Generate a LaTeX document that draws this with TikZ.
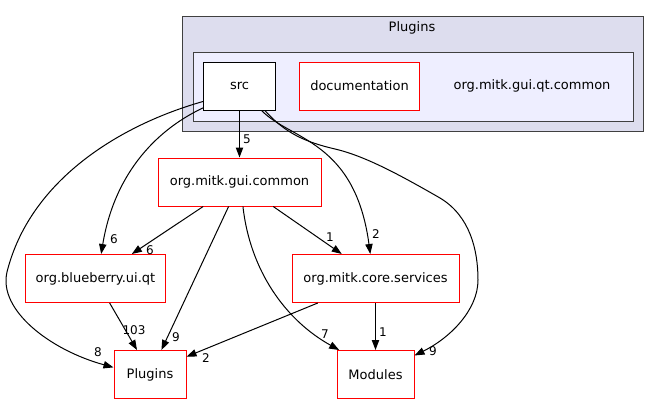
\documentclass[tikz,border=0pt]{standalone}
\usepackage{fontspec}
\setmainfont{DejaVu Sans}
\usetikzlibrary{arrows.meta}
\definecolor{clusterouter}{HTML}{DDDDEE}
\definecolor{clusterinner}{HTML}{EEEEFF}
\definecolor{clusterline}{HTML}{404040}
\begin{document}
\begin{tikzpicture}[x=0.75pt,y=0.75pt,yscale=-1,xscale=1,
  dirbox/.style={draw=red,fill=white,line width=0.75pt,inner sep=0pt,minimum height=36pt,font=\fontsize{9.75}{11}\selectfont},
  srcbox/.style={dirbox,draw=black},
  dep/.style={line width=0.75pt,-{Triangle[length=7.5pt,width=5.5pt]}},
  cnt/.style={inner sep=0.75pt,font=\fontsize{9}{10}\selectfont}]
\useasboundingbox (0,0) rectangle (660,404); %set diagram left start at 0, and has height of 404

%Clusters
\draw [fill=clusterouter,draw=clusterline,line width=0.75pt] (182,16) rectangle (643.5,131.5);
\draw [fill=clusterinner,draw=clusterline,line width=0.75pt] (193,52) rectangle (633.5,121);
% Text Node
\node (plugtitle) [font=\fontsize{9.75}{11}\selectfont] at (412,27.5) {Plugins};
% Text Node
\node (qtcommon) [font=\fontsize{9.75}{11}\selectfont] at (532,86) {org.mitk.gui.qt.common};

%Directories
\node (src) [srcbox,minimum width=54pt] at (239.5,86) {src};
\node (doc) [dirbox,minimum width=90pt] at (359.5,86) {documentation};
\node (gui) [dirbox,minimum width=122.25pt] at (239.5,182) {org.mitk.gui.common};
\node (blue) [dirbox,minimum width=105pt] at (95.5,278.5) {org.blueberry.ui.qt};
\node (core) [dirbox,minimum width=125.25pt] at (375.5,278.5) {org.mitk.core.services};
\node (plug) [dirbox,minimum width=54pt] at (150,374.5) {Plugins};
\node (mod) [dirbox,minimum width=57.75pt] at (375.5,374.5) {Modules};

%Straight Lines
\draw [dep] (src.south) -- (gui.north);
\draw [dep] (gui.214.8) -- (blue.34.8);
\draw [dep] (gui.246.4) -- (plug.65.8);
\draw [dep] (gui.324.4) -- (core.144.4);
\draw [dep] (blue.-60.6) -- (plug.118.8);
\draw [dep] (core.203.8) -- (plug.26);
\draw [dep] (core.south) -- (mod.north);
%Curve Lines
\draw [dep] (src.203.4) .. controls (120,125) and (30,180) .. (7,272) .. controls (-2,310) and (50,350) .. (plug.169.7);
\draw [dep] (src.211.3) .. controls (160,128) and (115,170) .. (blue.77.1);
\draw [dep] (src.-48) .. controls (290,140) and (355,140) .. (core.102.9);
\draw [dep] (src.-44) .. controls (285,133) and (305,142) .. (335,149) .. controls (365,156) and (400,175) .. (440,198) .. controls (470,216) and (478,250) .. (478,280) .. controls (478,310) and (450,338) .. (mod.26.8);
\draw [dep] (gui.278.3) .. controls (250,270) and (285,320) .. (mod.146.1);

% Text Node
\node (n5) [cnt] at (247,139) {5};
\node (n8) [cnt] at (98,352) {8};
\node (n6a) [cnt] at (114,239) {6};
\node (n6b) [cnt] at (150,250) {6};
\node (n9a) [cnt] at (176,337) {9};
\node (n103) [cnt] at (134,330) {103};
\node (n2a) [cnt] at (206,358) {2};
\node (n7) [cnt] at (325,334) {7};
\node (n1a) [cnt] at (330,237) {1};
\node (n2b) [cnt] at (376,234) {2};
\node (n1b) [cnt] at (383,332) {1};
\node (n9b) [cnt] at (433,351) {9};
\end{tikzpicture}
\end{document}
